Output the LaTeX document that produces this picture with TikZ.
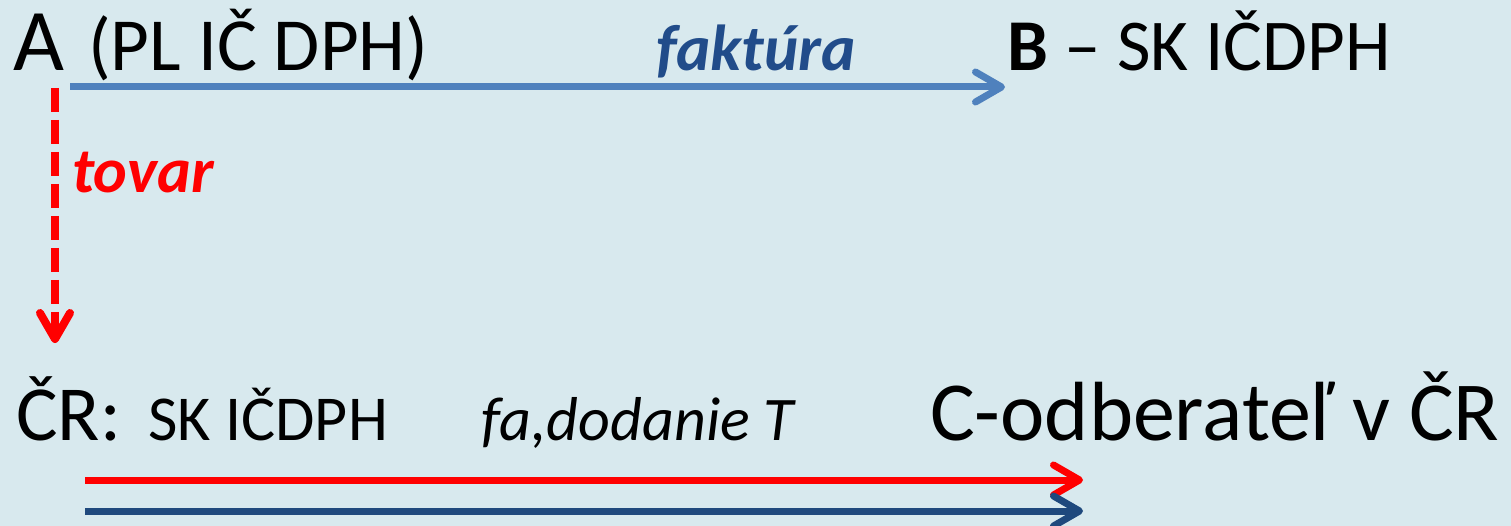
\documentclass[tikz,border=0pt]{standalone}
\usepackage{fontspec}
\setmainfont{Carlito}
\usetikzlibrary{arrows.meta}
\definecolor{bg}{RGB}{216,233,238}
\definecolor{lblue}{RGB}{79,129,189}
\definecolor{dblue}{RGB}{31,73,125}
\definecolor{tblue}{RGB}{33,76,138}
\definecolor{myred}{RGB}{255,0,0}
\begin{document}
\begin{tikzpicture}[x=1pt,y=-1pt,
  txt/.style={inner sep=0pt, anchor=base west},
  arr/.style={line width=7pt, -{Straight Barb[length=26pt,width=30pt,round]}}]
\fill[bg] (0,0) rectangle (1511,526);
\useasboundingbox (0,0) rectangle (1511,526);
% top row
\node[txt] (A) at (13,71) {\fontsize{88}{90}\selectfont A};
\node[txt] (Apl) at (88,71) {\fontsize{75}{80}\selectfont (PL IČ DPH)};
\node[txt, text=tblue] (fak) at (656,71) {\fontsize{65}{70}\selectfont\bfseries\itshape faktúra};
\node[txt] (B) at (1007,71) {\fontsize{73}{80}\selectfont\textbf{B} – SK IČDPH};
% tovar
\node[txt, text=myred] (tov) at (72,193) {\fontsize{64}{70}\selectfont\bfseries\itshape tovar};
% bottom row
\node[txt] (CR) at (16,440) {\fontsize{78}{80}\selectfont ČR:};
\node[txt] (SK) at (148,440) {\fontsize{64}{70}\selectfont SK IČDPH};
\node[txt] (fa) at (481,440) {\fontsize{62}{70}\selectfont\itshape fa,dodanie T};
\node[txt] (C) at (930,440) {\fontsize{84}{90}\selectfont C-odberateľ v ČR};
% connector endpoints
\coordinate (f1) at (70,87);
\coordinate (f2) at (1005,87);
\coordinate (t1) at (55,88);
\coordinate (t2) at (55,343);
\coordinate (r1) at (85,480);
\coordinate (r2) at (1083,480);
\coordinate (b1) at (85,511);
\coordinate (b2) at (1083,511);
% arrows
\draw[arr, lblue] (f1) -- (f2);
\draw[arr, myred, line width=8pt, dash pattern=on 24pt off 8pt] (t1) -- (t2);
\draw[arr, myred] (r1) -- (r2);
\draw[arr, dblue] (b1) -- (b2);
\end{tikzpicture}
\end{document}
